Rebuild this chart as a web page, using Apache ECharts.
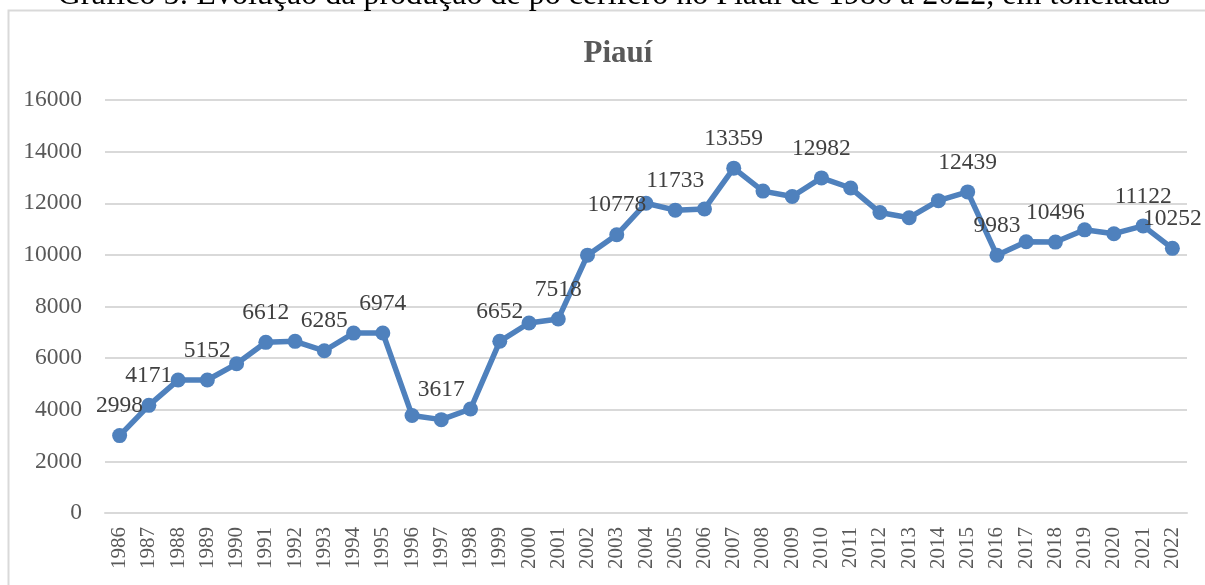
<!DOCTYPE html>
<html>
<head>
<meta charset="utf-8">
<title>Piauí</title>
<script src="https://cdn.jsdelivr.net/npm/echarts@6/dist/echarts.min.js"></script>
<style>
  html, body { margin: 0; padding: 0; background: #fff; }
  #chart { width: 1205px; height: 585px; }
</style>
</head>
<body>
<div id="chart"></div>
<script>
// anos e produção (toneladas)
var years = ['1986','1987','1988','1989','1990','1991','1992','1993','1994','1995',
  '1996','1997','1998','1999','2000','2001','2002','2003','2004','2005','2006','2007',
  '2008','2009','2010','2011','2012','2013','2014','2015','2016','2017','2018','2019',
  '2020','2021','2022'];
var production = [2998, 4171, 5150, 5152, 5780, 6612, 6650, 6285, 6970, 6974,
  3780, 3617, 4030, 6652, 7360, 7518, 9990, 10778, 12000, 11733, 11780, 13359,
  12470, 12260, 12982, 12590, 11640, 11440, 12100, 12439, 9983, 10510, 10496, 10970,
  10820, 11122, 10252];
// anos que têm rótulo de dados no original
var labelledYears = ['1986','1987','1989','1991','1993','1995','1997','1999','2001',
  '2003','2005','2007','2010','2015','2016','2018','2021','2022'];
var yTicks = [0, 2000, 4000, 6000, 8000, 10000, 12000, 14000, 16000];

var caption = 'Gráfico 5: Evolução da produção de pó cerífero no Piauí de 1986 a 2022, em toneladas';
var chartTitle = 'Piauí';

var serif = '"Liberation Serif", "Times New Roman", serif';

var seriesData = production.map(function (v, i) {
  return {
    value: v,
    label: { show: labelledYears.indexOf(years[i]) >= 0 }
  };
});

var chart = echarts.init(document.getElementById('chart'));

var option = {
  animation: false,
  backgroundColor: '#fff',
  title: {
    text: chartTitle,
    left: 613,
    textAlign: 'center',
    top: 33,
    textStyle: {
      fontFamily: serif,
      fontSize: 31,
      fontWeight: 'bold',
      color: '#595959'
    }
  },
  graphic: [
    {
      type: 'rect',
      silent: true,
      shape: { x: 8.5, y: 10.5, width: 1210, height: 600 },
      style: { fill: 'none', stroke: '#d9d9d9', lineWidth: 2 }
    },
    {
      // legenda do gráfico, cortada no topo como no original
      type: 'text',
      silent: true,
      x: 614,
      y: -20,
      style: {
        text: caption,
        fontFamily: serif,
        fontSize: 32,
        fill: '#000',
        align: 'center',
        verticalAlign: 'top'
      }
    }
  ],
  grid: {
    left: 105,
    right: 18,
    top: 100,
    bottom: 72
  },
  xAxis: {
    type: 'category',
    data: years,
    boundaryGap: true,
    axisLine: { show: true, lineStyle: { color: '#d9d9d9', width: 2 } },
    axisTick: { show: false },
    axisLabel: {
      rotate: 90,
      interval: 0,
      margin: 14,
      fontFamily: serif,
      fontSize: 21,
      color: '#595959'
    }
  },
  yAxis: {
    type: 'value',
    min: yTicks[0],
    max: yTicks[yTicks.length - 1],
    interval: yTicks[1] - yTicks[0],
    axisLine: { show: false },
    axisTick: { show: false },
    splitLine: { lineStyle: { color: '#d9d9d9', width: 2 } },
    axisLabel: {
      margin: 23,
      fontFamily: serif,
      fontSize: 23.5,
      color: '#595959',
      formatter: function (v) { return String(v); }
    }
  },
  series: [{
    name: chartTitle,
    type: 'line',
    data: seriesData,
    symbol: 'circle',
    symbolSize: 15,
    lineStyle: { color: '#4f81bd', width: 5.5 },
    itemStyle: { color: '#4f81bd' },
    label: {
      position: 'top',
      distance: 10,
      fontFamily: serif,
      fontSize: 23.5,
      color: '#404040'
    }
  }]
};

chart.setOption(option);
</script>
</body>
</html>
